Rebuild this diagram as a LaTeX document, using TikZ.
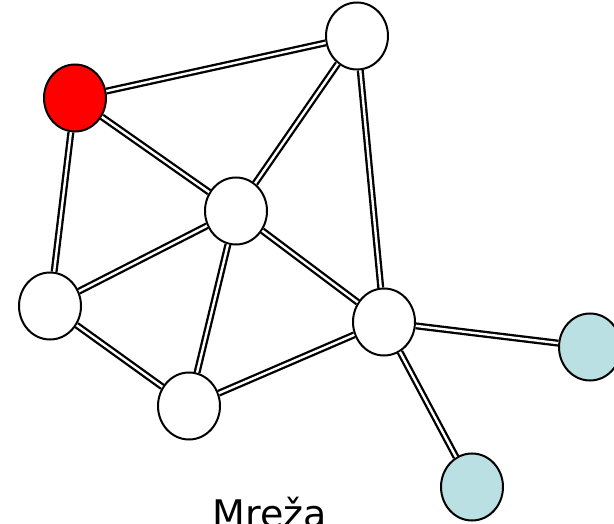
\documentclass[tikz,border=0pt]{standalone}
\usepackage{fontspec}
\setmainfont{DejaVu Sans}
\usetikzlibrary{shapes.geometric}
\definecolor{nodeRed}{RGB}{255,0,0}
\definecolor{leafBlue}{RGB}{187,224,227}

\begin{document}
\begin{tikzpicture}[
    x=1pt, y=-1pt,
    netnode/.style={draw, ellipse, line width=2pt, minimum width=62pt, minimum height=67pt, inner sep=0pt, fill=white},
    link/.style={double, line width=2.3pt, double distance=2.4pt},
]
\useasboundingbox (0,0) rectangle (614,524);
\clip (0,0) rectangle (614,524);
\node[netnode] (t) at (357,36) {};
\node[netnode, fill=nodeRed] (r) at (75,98) {};
\node[netnode] (c) at (236,211) {};
\node[netnode] (l) at (50,306) {};
\node[netnode] (hub) at (384,322) {};
\node[netnode] (b) at (189,406) {};
\node[netnode, fill=leafBlue] (e1) at (590,347) {};
\node[netnode, fill=leafBlue] (e2) at (472,487) {};
\node[font=\fontsize{38}{40}\selectfont, anchor=base] (title) at (270,527) {Mreža};

\draw[link] (r) -- (t);
\draw[link] (r) -- (c);
\draw[link] (r) -- (l);
\draw[link] (t) -- (c);
\draw[link] (t) -- (hub);
\draw[link] (c) -- (l);
\draw[link] (c) -- (b);
\draw[link] (c) -- (hub);
\draw[link] (l) -- (b);
\draw[link] (b) -- (hub);
\draw[link] (hub) -- (e1);
\draw[link] (hub) -- (e2);
\end{tikzpicture}
\end{document}
